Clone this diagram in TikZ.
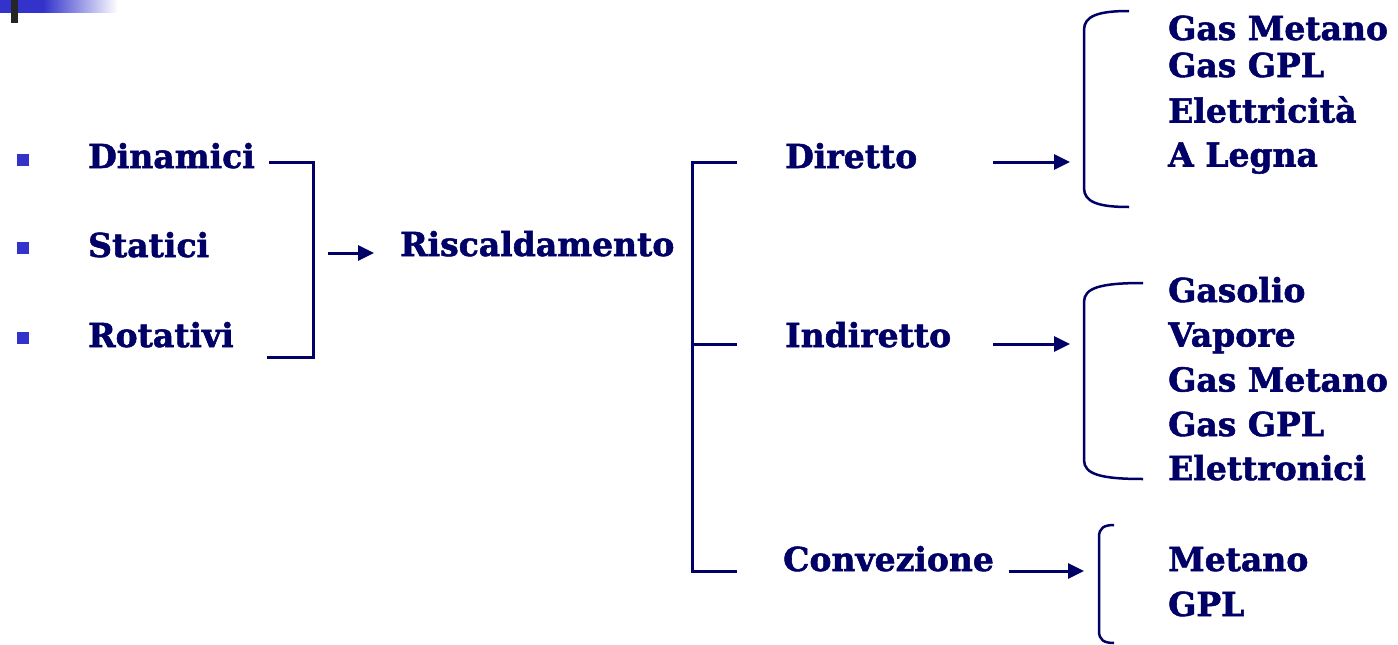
\documentclass[tikz,border=0pt]{standalone}
\usepackage{fontspec}
\setmainfont{DejaVu Serif}[BoldFeatures={FakeBold=1.6}]
\usetikzlibrary{arrows.meta}
\definecolor{navy}{RGB}{0,0,102}
\definecolor{bul}{RGB}{51,51,204}
\begin{document}
\begin{tikzpicture}[x=1pt,y=-1pt,
  lbl/.style={anchor=base west,inner sep=0pt,text=navy,font=\fontsize{33}{40}\selectfont\bfseries},
  ln/.style={draw=navy,line width=3pt},
  arr/.style={draw=navy,line width=3pt,-{Triangle[length=16pt,width=15pt]}},
  bullet/.style={fill=bul,draw=none,minimum size=12pt,inner sep=0pt}]
\useasboundingbox (0,0) rectangle (1398,645);
% top-left decoration
\fill[bul] (0,0) rectangle (43,12.5);
\shade[left color=bul,right color=white] (43,0) rectangle (118,12.5);
\fill[black!85] (11,0) rectangle (17.7,22.7);
% bullets
\node[bullet] (b1) at (22.5,160) {};
\node[bullet] (b2) at (22.5,248) {};
\node[bullet] (b3) at (22.5,337.5) {};
% left labels
\node[lbl] (din) at (88,168) {Dinamici};
\node[lbl] (sta) at (88,257) {Statici};
\node[lbl] (rot) at (88,347) {Rotativi};
% first bracket
\coordinate (l1a) at (269,162);
\coordinate (l1b) at (313,162);
\coordinate (l1c) at (313,357);
\coordinate (l1d) at (267,357);
\draw[ln] (l1a) -- (l1b) -- (l1c) -- (l1d);
\coordinate (a0s) at (328,253);
\coordinate (a0e) at (374,253);
\draw[arr] (a0s) -- (a0e);
\node[lbl] (risc) at (400,256) {Riscaldamento};
% second bracket
\coordinate (v1) at (692,162);
\coordinate (v2) at (692,344);
\coordinate (v3) at (692,571);
\coordinate (h1) at (737,162);
\coordinate (h2) at (737,344);
\coordinate (h3) at (737,571);
\draw[ln] (h1) -- (v1) -- (v3) -- (h3);
\draw[ln] (v2) -- (h2);
% middle labels
\node[lbl] (dir) at (785,168) {Diretto};
\node[lbl] (ind) at (785,347) {Indiretto};
\node[lbl] (conv) at (783,571) {Convezione};
% arrows
\coordinate (a1s) at (993,162);  \coordinate (a1e) at (1070,162);
\coordinate (a2s) at (993,344);  \coordinate (a2e) at (1070,344);
\coordinate (a3s) at (1009,571); \coordinate (a3e) at (1084,571);
\draw[arr] (a1s) -- (a1e);
\draw[arr] (a2s) -- (a2e);
\draw[arr] (a3s) -- (a3e);
% braces
\draw[draw=navy,line width=2.5pt] (1129,11) .. controls (1098,11) and (1084,16) .. (1084,30)
   -- (1084,188) .. controls (1084,202) and (1098,207) .. (1129,207);
\draw[draw=navy,line width=2.5pt] (1143,283) .. controls (1100,283) and (1084,288) .. (1084,302)
   -- (1084,460) .. controls (1084,474) and (1100,479) .. (1143,479);
\draw[draw=navy,line width=2.5pt] (1114,525) .. controls (1104,525) and (1099,528) .. (1099,537)
   -- (1099,631) .. controls (1099,640) and (1104,643) .. (1114,643);
% lists
\node[lbl] (l11) at (1168,40) {Gas Metano};
\node[lbl] (l12) at (1168,77) {Gas GPL};
\node[lbl] (l13) at (1168,122.5) {Elettricità};
\node[lbl] (l14) at (1168,166.5) {A Legna};
\node[lbl] (l21) at (1168,302) {Gasolio};
\node[lbl] (l22) at (1168,346.5) {Vapore};
\node[lbl] (l23) at (1168,391.5) {Gas Metano};
\node[lbl] (l24) at (1168,436) {Gas GPL};
\node[lbl] (l25) at (1168,480) {Elettronici};
\node[lbl] (l31) at (1168,571) {Metano};
\node[lbl] (l32) at (1168,616) {GPL};
\end{tikzpicture}
\end{document}
